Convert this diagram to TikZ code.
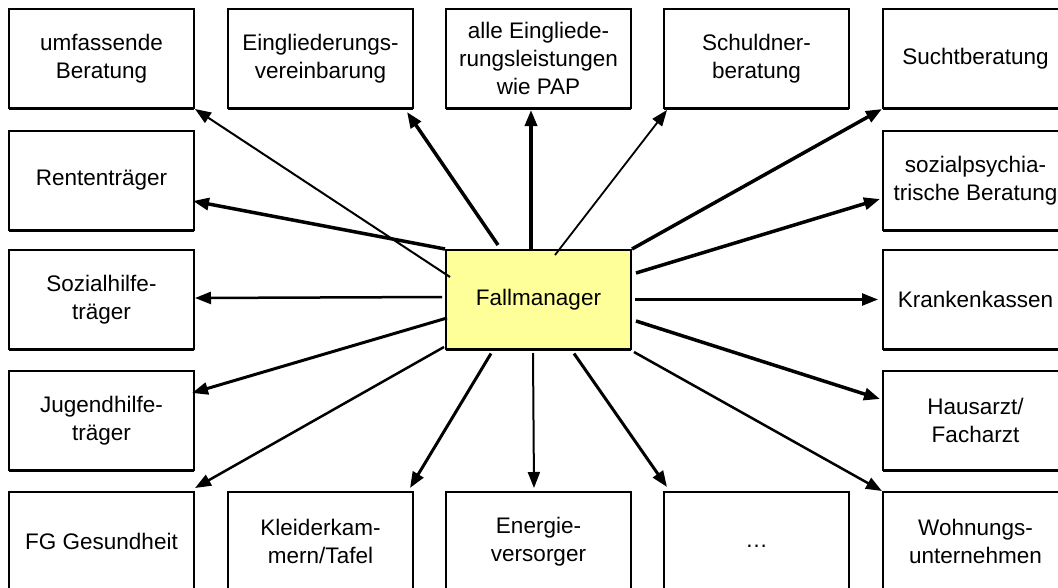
\documentclass[tikz,border=0pt]{standalone}
\usepackage{fontspec}
\setmainfont{Liberation Sans}
\usetikzlibrary{arrows.meta,calc,shadows}
\definecolor{fmyellow}{HTML}{FFFF99}
\begin{document}
\begin{tikzpicture}[x=1pt,y=-1pt,
  box/.style={draw=black,line width=2pt,fill=white,anchor=north west,
    minimum width=185pt,minimum height=99pt,inner sep=2pt,align=center,
    font=\fontsize{22.5}{28.3}\selectfont,
    drop shadow={shadow xshift=0pt,shadow yshift=-2pt,fill=black,opacity=1}},
  link/.style={line width=#1,-{Triangle[length=16pt,width=12pt]}},
  link/.default=2.5pt]
\useasboundingbox (0,0) rectangle (1058,587);
\clip (0,0) rectangle (1058,587);

% column 1
\node[box] (umf)   at (8,8)   {umfassende\\Beratung};
\node[box] (rente) at (8,130) {Rententräger};
\node[box] (sozh)  at (8,249) {Sozialhilfe-\\träger};
\node[box] (jug)   at (8,370) {Jugendhilfe-\\träger};
\node[box] (fg)    at (8,491) {FG Gesundheit};
% top row
\node[box] (ev)    at (227,8) {Eingliederungs-\\vereinbarung};
\node[box] (alle)  at (445,8) {alle Eingliede-\\rungsleistungen\\wie PAP};
\node[box] (schu)  at (663,8) {Schuldner-\\beratung};
% column 5
\node[box] (sucht) at (882,8)   {Suchtberatung};
\node[box] (spsy)  at (882,130) {sozialpsychia-\\trische Beratung};
\node[box] (kk)    at (882,249) {Krankenkassen};
\node[box] (arzt)  at (882,370) {Hausarzt/\\Facharzt};
\node[box] (wohn)  at (882,491) {Wohnungs-\\unternehmen};
% bottom row
\node[box] (kleid) at (227,491) {Kleiderkam-\\mern/Tafel};
\node[box] (ener)  at (445,491) {Energie-\\versorger};
\node[box] (dots)  at (663,491) {\strut…};
% centre
\node[box,fill=fmyellow] (fm) at (445,249) {Fallmanager};

% links from the case manager
\draw[link=2pt]   ($(fm.west)+(5,-22.5)$)   -- (umf.south east);
\draw[link=3.5pt] (fm.north west)           -- ($(rente.east)+(-2,20.5)$);
\draw[link=3.5pt] ($(fm.north)+(-40.5,-4)$) -- ($(ev.south east)+(-7,3)$);
\draw[link=3.5pt] ($(fm.north)+(-7.5,0)$)   -- ($(alle.south)+(-7.5,1)$);
\draw[link=1.8pt] ($(fm.north)+(16.5,6)$)   -- ($(schu.south west)+(4,1)$);
\draw[link=3.5pt] (fm.north east)           -- (sucht.south west);
\draw[link=3.5pt] ($(fm.east)+(4,-26.5)$)   -- ($(spsy.west)+(-2,18.5)$);
\draw[link=2.5pt] ($(fm.east)+(3,0)$)       -- ($(kk.west)+(-4,0)$);
\draw[link=3.5pt] ($(fm.east)+(4,21.5)$)    -- ($(arzt.west)+(-2,-21.5)$);
\draw[link=2.5pt] ($(fm.south east)+(2,2)$) -- (wohn.north west);
\draw[link=3pt]   ($(fm.south)+(35.5,3.5)$) -- ($(dots.north west)+(4,-4)$);
\draw[link=2pt]   ($(fm.south)+(-5.5,3)$)   -- ($(ener.north)+(-4.5,-3)$);
\draw[link=3pt]   ($(fm.south)+(-47.5,3.5)$) -- ($(kleid.north east)+(-4,-3)$);
\draw[link=2.5pt] ($(fm.south west)+(-1,-3)$) -- ($(fg.north east)+(0,-3)$);
\draw[link=3pt]   ($(fm.west)+(2,18.5)$)    -- ($(jug.east)+(-3,-27.5)$);
\draw[link=2.5pt] ($(fm.west)+(-3,-2.5)$)   -- ($(sozh.east)+(0,-1.5)$);
\end{tikzpicture}
\end{document}
